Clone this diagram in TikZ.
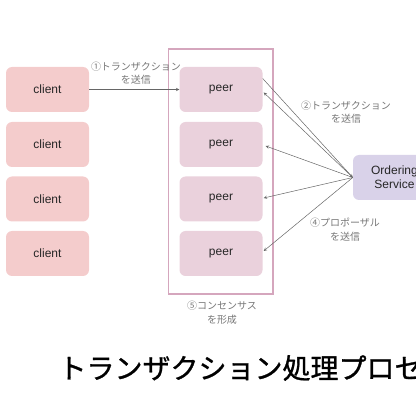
\documentclass[tikz,border=0pt]{standalone}
\usepackage{fontspec}
\setmainfont{Liberation Sans}
\newfontfamily\cjk{Noto Sans CJK JP}
\newfontfamily\cjktitle[UprightFeatures={FakeBold=1}]{Noto Sans CJK JP}
\usetikzlibrary{calc}

\definecolor{clientpink}{HTML}{F4CCCC}
\definecolor{peerpink}{HTML}{EAD1DC}
\definecolor{groupline}{HTML}{D5A6BD}
\definecolor{ordlilac}{HTML}{D9D2E9}
\definecolor{arrowgray}{HTML}{666666}
\definecolor{notegray}{HTML}{777777}

\begin{document}
\begin{tikzpicture}[x=1pt,y=-1pt,
	box/.style={rounded corners=6pt, minimum width=83pt, minimum height=45pt, inner sep=0pt,
		font=\fontsize{12}{14}\selectfont, text=black!85},
	note/.style={align=center, text=notegray, font=\cjk\fontsize{10}{13.5}\selectfont},
	flow/.style={arrowgray, line width=0.5pt, -stealth}]
					\useasboundingbox (0,0) rectangle (416,404);
					\clip (0,0) rectangle (416,404);

					% clients and peers, one row each
					\foreach \i/\y in {1/89.5, 2/144.5, 3/199, 4/253.5} {
						\node[box, fill=clientpink] (c\i) at (47.5,\y) {client};
						\node[box, fill=peerpink] (p\i) at (221,\y) {peer};
					}

					% peers form one group
					\draw[groupline, line width=1.5pt] (168.5,49) rectangle (273,294);

					\node[box, fill=ordlilac, align=center] (os) at (394.5,177.5) {Ordering\\Service};

					\draw[flow] (c1) -- (p1);
					\draw[flow] ($(p1.east)+(0,-11)$) -- (os.west);
					\draw[flow] (os.west) -- ($(p1.east)+(1,3)$);
					\draw[flow] (os.west) -- ($(p2.east)+(3,1.5)$);
					\draw[flow] (os.west) -- ($(p3.east)+(1,-1)$);
					\draw[flow] (os.west) -- ($(p4.east)+(1,-2.5)$);

					\node[note] (n1) at (136,73) {①トランザクション\\を送信};
					\node[note] (n2) at (346,112) {②トランザクション\\を送信};
					\node[note] (n4) at (345,229.5) {④プロポーザル\\を送信};
					\node[note] (n5) at (222,312.5) {⑤コンセンサス\\を形成};

					\node[anchor=west, font=\cjktitle\fontsize{28}{30}\selectfont] (title) at (55,368) {トランザクション処理プロセス};
\end{tikzpicture}
\end{document}
